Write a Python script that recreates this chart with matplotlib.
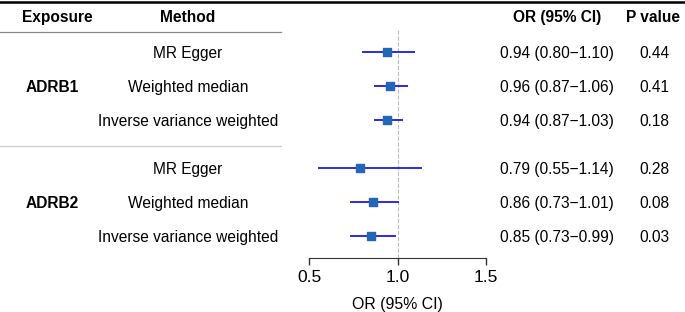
import matplotlib.pyplot as plt
import matplotlib.transforms as mtransforms

exposures = ["ADRB1", "ADRB2"]
methods = ["MR Egger", "Weighted median", "Inverse variance weighted"]
or_val = [0.94, 0.96, 0.94, 0.79, 0.86, 0.85]
ci_low = [0.80, 0.87, 0.87, 0.55, 0.73, 0.73]
ci_high = [1.10, 1.06, 1.03, 1.14, 1.01, 0.99]
p_val = ["0.44", "0.41", "0.18", "0.28", "0.08", "0.03"]

plt.rcParams['font.family'] = ['Liberation Sans', 'DejaVu Sans']

W, H = 685, 312
fig = plt.figure(figsize=(W / 100, H / 100), dpi=100)

# forest panel: 0.5..1.5 spans pixels 309..486, rows span 30..258 px
ax = fig.add_axes([309 / W, (H - 258) / H, (486 - 309) / W, (258 - 30) / H])
ypos = [0, 1, 2, 3.41, 4.41, 5.41]
ax.set_xlim(0.5, 1.5)
ax.set_ylim(6.06, -0.647)

ax.axvline(1.0, color="#bbbbbb", ls="--", lw=0.8, zorder=0)
ax.hlines(ypos, ci_low, ci_high, color="#1a1ae6", lw=1.3, zorder=2)
ax.scatter(or_val, ypos, marker="s", s=30, color="#2366b8", zorder=3)

for s in ["top", "right", "left"]:
    ax.spines[s].set_visible(False)
ax.spines["bottom"].set_color("#333333")
ax.set_yticks([])
ax.set_xticks([0.5, 1.0, 1.5])
ax.set_xticklabels(["0.5", "1.0", "1.5"])
ax.tick_params(axis="x", length=5, width=1, color="#333333", labelsize=12.5, pad=4)
ax.set_xlabel("OR (95% CI)", fontsize=11.4, labelpad=8)

# table text
tr = mtransforms.blended_transform_factory(fig.transFigure, ax.transData)
fs = 11.2
for i in range(6):
    fig.text(188 / W, ypos[i], methods[i % 3], transform=tr, ha="center", va="center_baseline", fontsize=fs)
    fig.text(557 / W, ypos[i], f"{or_val[i]:.2f} ({ci_low[i]:.2f}\u2212{ci_high[i]:.2f})",
             transform=tr, ha="center", va="center_baseline", fontsize=fs)
    fig.text(654 / W, ypos[i], p_val[i], transform=tr, ha="center", va="center_baseline", fontsize=fs)
for g, name in enumerate(exposures):
    fig.text(52 / W, ypos[g * 3 + 1], name, transform=tr, ha="center", va="center_baseline",
             fontsize=fs, fontweight="bold")

hy = 1 - 16 / H
fig.text(57 / W, hy, "Exposure", ha="center", va="center_baseline", fontsize=fs, fontweight="bold")
fig.text(188 / W, hy, "Method", ha="center", va="center_baseline", fontsize=fs, fontweight="bold")
fig.text(557 / W, hy, "OR (95% CI)", ha="center", va="center_baseline", fontsize=fs, fontweight="bold")
fig.text(653 / W, hy, "P value", ha="center", va="center_baseline", fontsize=fs, fontweight="bold")

# rules
fig.add_artist(plt.Line2D([0, 1], [1 - 2 / H, 1 - 2 / H], color="black", lw=1.8, transform=fig.transFigure))
fig.add_artist(plt.Line2D([0, 281 / W], [1 - 32 / H, 1 - 32 / H], color="#888888", lw=0.9, transform=fig.transFigure))
fig.add_artist(plt.Line2D([0, 281 / W], [1 - 146 / H, 1 - 146 / H], color="#cccccc", lw=0.9, transform=fig.transFigure))

fig.savefig("out.png", dpi=100)
